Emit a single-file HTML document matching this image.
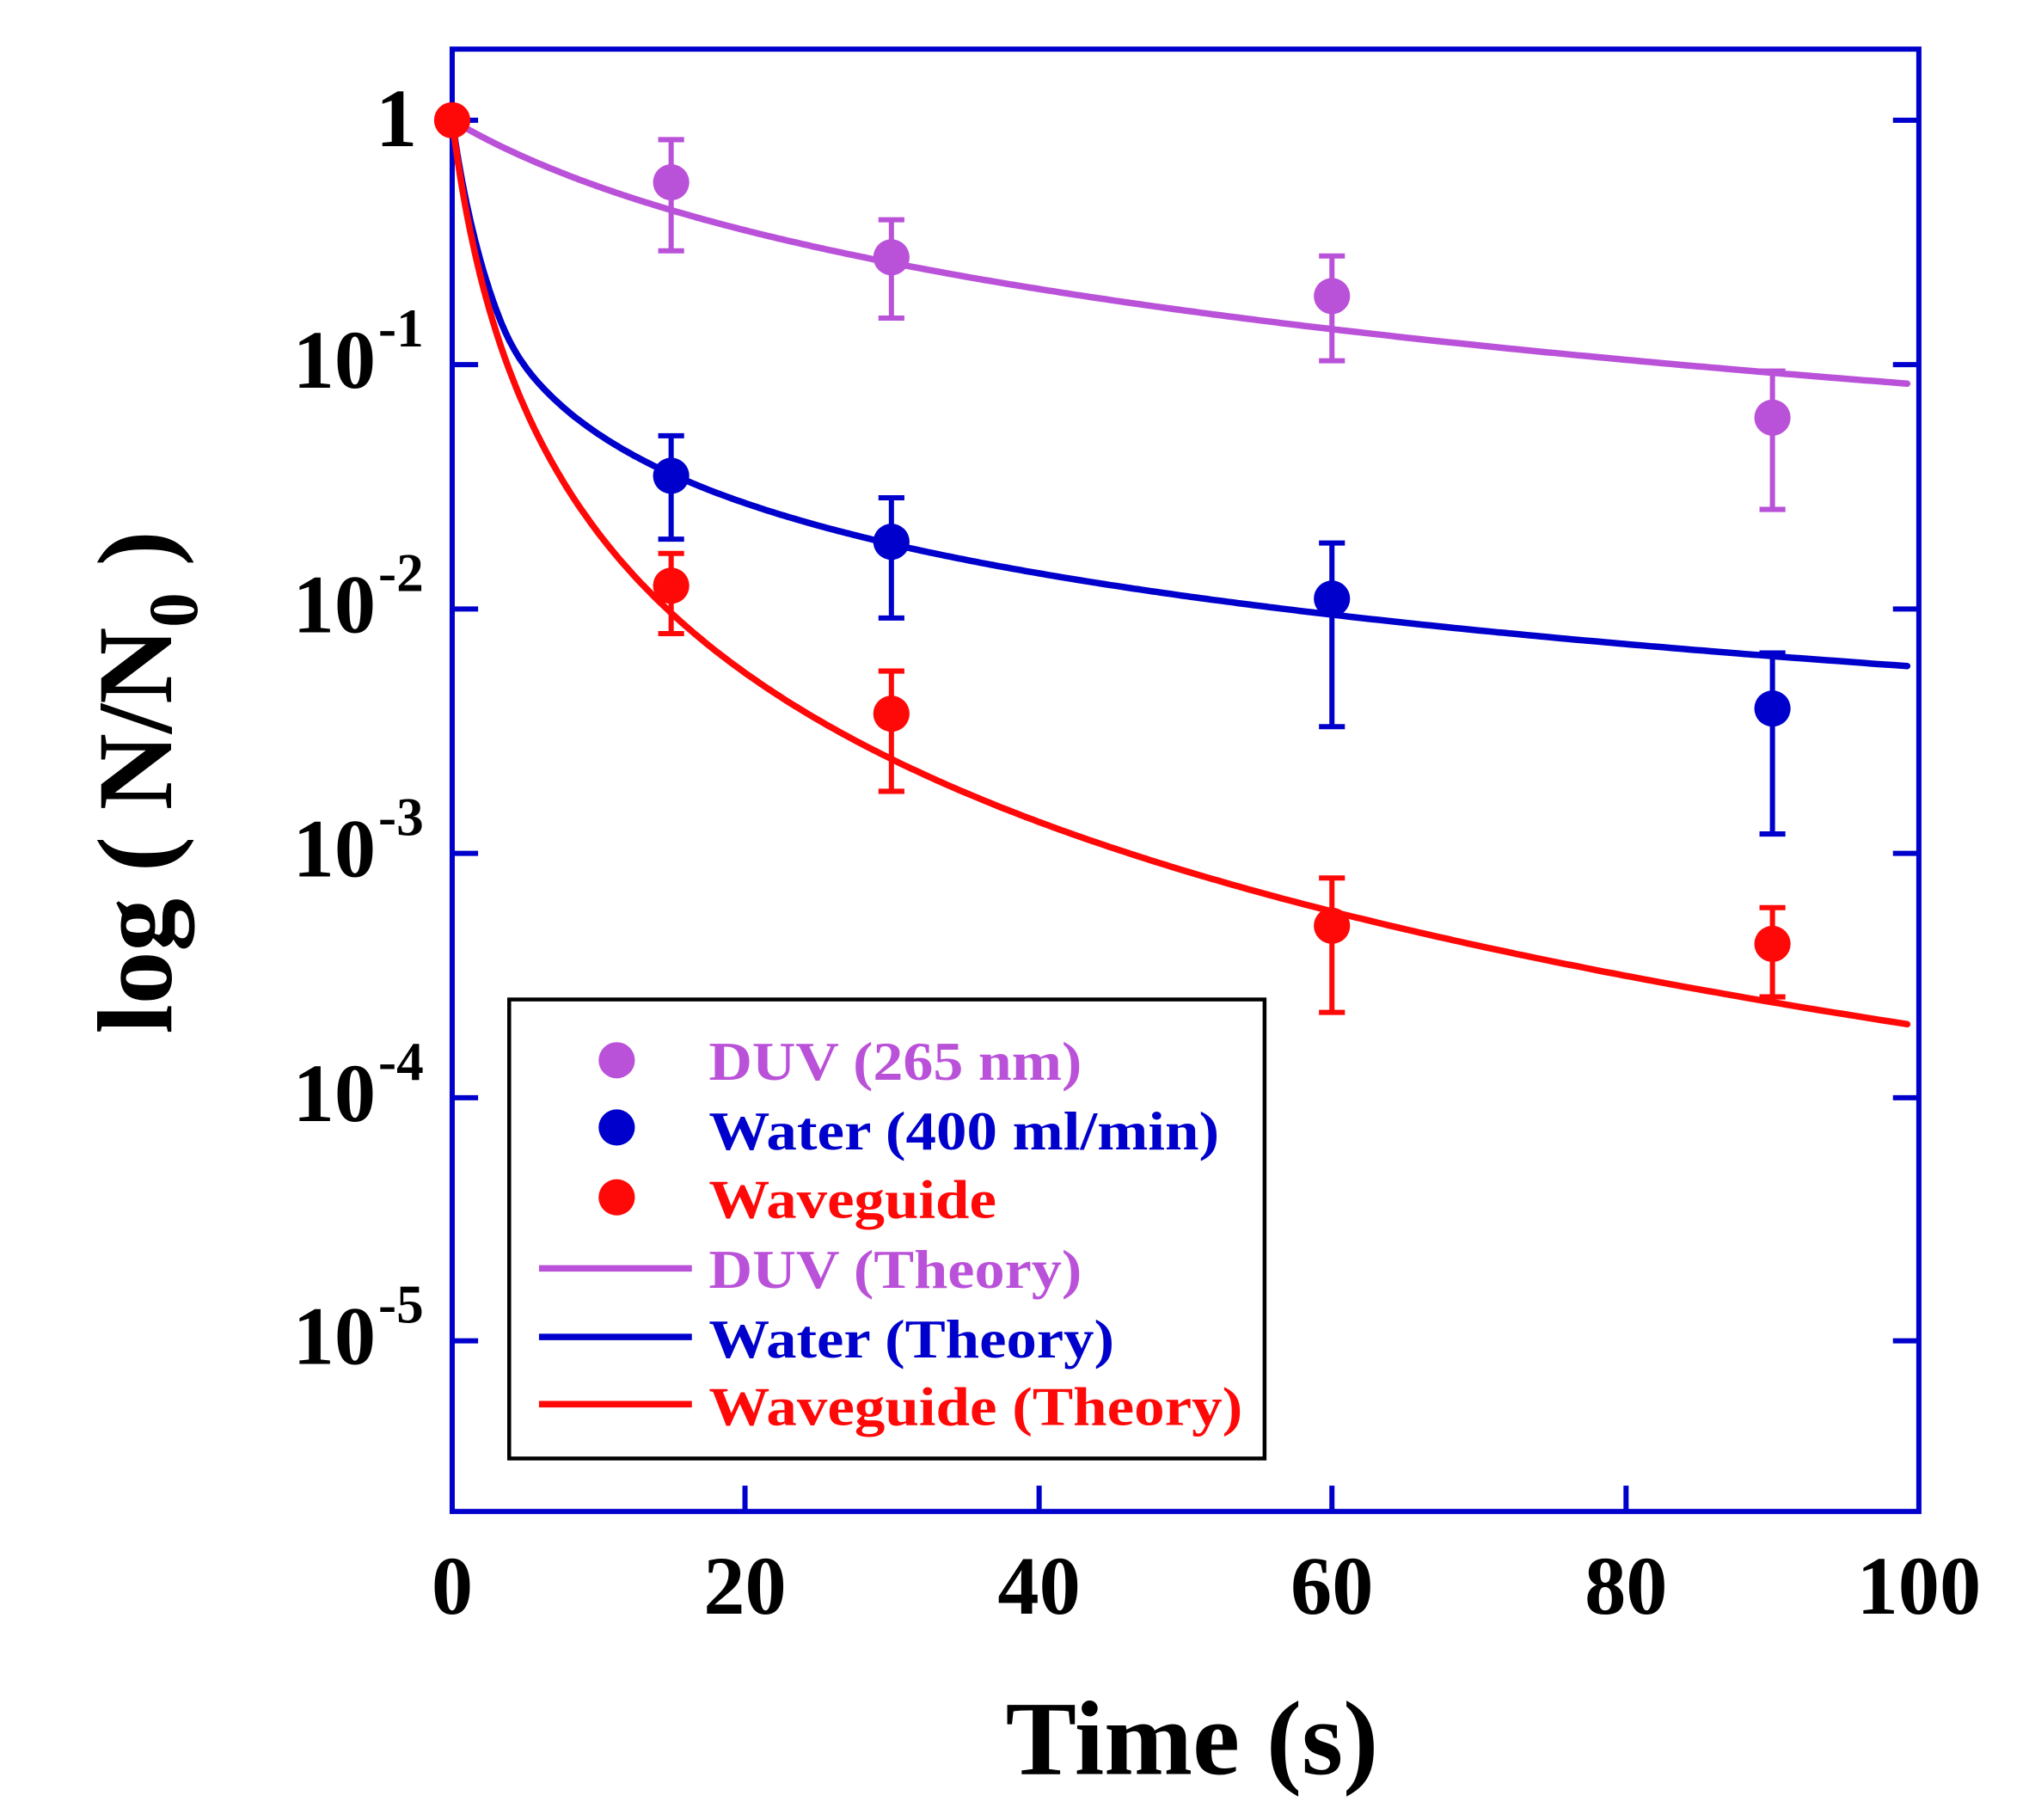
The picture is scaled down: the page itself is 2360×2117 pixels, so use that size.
<!DOCTYPE html>
<html><head><meta charset="utf-8"><style>
html,body{margin:0;padding:0;background:#fff;}
svg{display:block;}
text{font-family:"Liberation Serif",serif;font-weight:bold;}
</style></head><body>
<svg width="2360" height="2117" viewBox="0 0 1566 1407.6" preserveAspectRatio="none" xmlns="http://www.w3.org/2000/svg">
<rect x="0" y="0" width="1566" height="1408" fill="#fff"/>
<rect x="349" y="38" width="1132" height="1131" fill="none" stroke="#0000CC" stroke-width="4"/>
<g stroke="#0000CC" stroke-width="4">
<line x1="349" y1="93" x2="369" y2="93"/><line x1="349" y1="282" x2="369" y2="282"/><line x1="349" y1="471" x2="369" y2="471"/><line x1="349" y1="660" x2="369" y2="660"/><line x1="349" y1="849" x2="369" y2="849"/><line x1="349" y1="1037" x2="369" y2="1037"/>
<line x1="1461" y1="93" x2="1481" y2="93"/><line x1="1461" y1="282" x2="1481" y2="282"/><line x1="1461" y1="471" x2="1481" y2="471"/><line x1="1461" y1="660" x2="1481" y2="660"/><line x1="1461" y1="849" x2="1481" y2="849"/><line x1="1461" y1="1037" x2="1481" y2="1037"/>
<line x1="575" y1="1169" x2="575" y2="1149"/><line x1="802" y1="1169" x2="802" y2="1149"/><line x1="1028" y1="1169" x2="1028" y2="1149"/><line x1="1255" y1="1169" x2="1255" y2="1149"/>
</g>
<g font-size="64" text-anchor="end" fill="#000">
<text x="322" y="113">1</text>
<text x="290" y="300">10</text><text x="292" y="268" font-size="42" text-anchor="start">-1</text>
<text x="290" y="489">10</text><text x="292" y="457" font-size="42" text-anchor="start">-2</text>
<text x="290" y="678">10</text><text x="292" y="646" font-size="42" text-anchor="start">-3</text>
<text x="290" y="867">10</text><text x="292" y="835" font-size="42" text-anchor="start">-4</text>
<text x="290" y="1055">10</text><text x="292" y="1023" font-size="42" text-anchor="start">-5</text>
</g>
<g font-size="64" text-anchor="middle" fill="#000">
<text x="349" y="1248">0</text><text x="575" y="1248">20</text><text x="802" y="1248">40</text><text x="1028" y="1248">60</text><text x="1255" y="1248">80</text><text x="1481" y="1248">100</text>
</g>
<text x="920" y="1372" font-size="82" text-anchor="middle" fill="#000">Time (s)</text>
<text transform="translate(132,605) rotate(-90)" font-size="82" text-anchor="middle" fill="#000">log ( N/N<tspan font-size="54" dy="20">0</tspan><tspan dy="-20"> )</tspan></text>
<g fill="none" stroke-width="5" stroke-linejoin="round" stroke-linecap="round">
<polyline id="cD" stroke="#BA52D9"/>
<polyline id="cW" stroke="#0000CC"/>
<polyline id="cR" stroke="#FF0808"/>
</g>
<g stroke-width="4" fill="none">
<g stroke="#BA52D9"><path d="M518 108V194M508 108H528M508 194H528 M688 170V246M678 170H698M678 246H698 M1028 198V279M1018 198H1038M1018 279H1038 M1368 287V394M1358 287H1378M1358 394H1378"/></g>
<g stroke="#0000CC"><path d="M518 337V417M508 337H528M508 417H528 M688 385V478M678 385H698M678 478H698 M1028 420V562M1018 420H1038M1018 562H1038 M1368 505V645M1358 505H1378M1358 645H1378"/></g>
<g stroke="#FF0808"><path d="M518 428V490M508 428H528M508 490H528 M688 519V612M678 519H698M678 612H698 M1028 679V783M1018 679H1038M1018 783H1038 M1368 702V771M1358 702H1378M1358 771H1378"/></g>
</g>
<g fill="#BA52D9"><circle cx="518" cy="141" r="14"/><circle cx="688" cy="199" r="14"/><circle cx="1028" cy="229" r="14"/><circle cx="1368" cy="323" r="14"/></g>
<g fill="#0000CC"><circle cx="518" cy="368" r="14"/><circle cx="688" cy="419" r="14"/><circle cx="1028" cy="463" r="14"/><circle cx="1368" cy="548" r="14"/></g>
<g fill="#FF0808"><circle cx="518" cy="453" r="14"/><circle cx="688" cy="552" r="14"/><circle cx="1028" cy="716" r="14"/><circle cx="1368" cy="730" r="14"/><circle cx="349" cy="93" r="14"/></g>
<rect x="393" y="773" width="583" height="355" fill="#fff" stroke="#000" stroke-width="3"/>
<circle cx="476" cy="820" r="14" fill="#BA52D9"/>
<circle cx="476" cy="872" r="14" fill="#0000CC"/>
<circle cx="476" cy="926" r="14" fill="#FF0808"/>
<line x1="416" y1="981" x2="534" y2="981" stroke="#BA52D9" stroke-width="5"/>
<line x1="416" y1="1034" x2="534" y2="1034" stroke="#0000CC" stroke-width="5"/>
<line x1="416" y1="1086" x2="534" y2="1086" stroke="#FF0808" stroke-width="5"/>
<g font-size="42">
<text x="547" y="835" fill="#BA52D9" textLength="288" lengthAdjust="spacingAndGlyphs">DUV (265 nm)</text>
<text x="547" y="889" fill="#0000CC" textLength="394" lengthAdjust="spacingAndGlyphs">Water (400 ml/min)</text>
<text x="547" y="942" fill="#FF0808" textLength="222" lengthAdjust="spacingAndGlyphs">Waveguide</text>
<text x="547" y="996" fill="#BA52D9" textLength="288" lengthAdjust="spacingAndGlyphs">DUV (Theory)</text>
<text x="547" y="1050" fill="#0000CC" textLength="313" lengthAdjust="spacingAndGlyphs">Water (Theory)</text>
<text x="547" y="1102" fill="#FF0808" textLength="412" lengthAdjust="spacingAndGlyphs">Waveguide (Theory)</text>
</g>
</svg>
<script>
function f(A,c,t){return 93+A*Math.log(1+t/c);}
function gen(id,fn){var pts=[];for(var i=0;i<=400;i++){var t=100*Math.pow(i/400,2);pts.push((349+t*11.23).toFixed(1)+","+fn(t).toFixed(1));}
document.getElementById(id).setAttribute("points",pts.join(" "));}
gen("cD",function(t){return f(100,15,t);});
gen("cR",function(t){return f(177.8,2,t);});
gen("cW",function(t){var a=f(79.6,0.5,t)-93,r=(f(177.8,2,t)-93)*0.9,k=5;var m=Math.min(a,r);
return 93+m-k*Math.log(Math.exp(-(a-m)/k)+Math.exp(-(r-m)/k));});
</script>
</body></html>
